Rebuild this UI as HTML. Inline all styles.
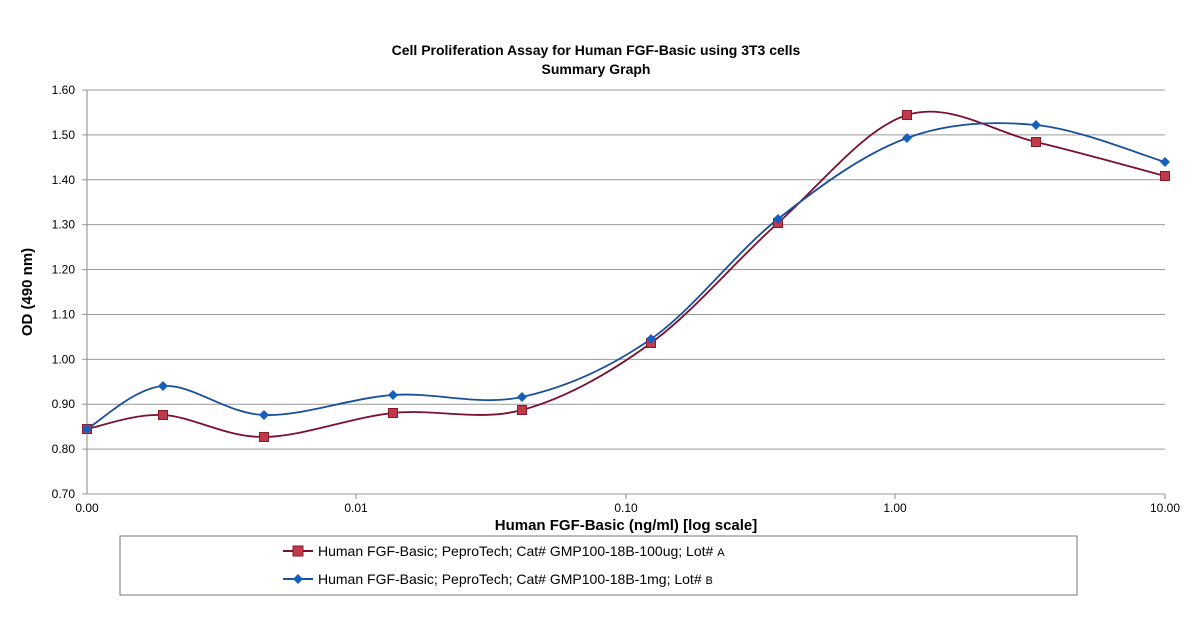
<!DOCTYPE html>
<html><head><style>
body{margin:0;background:#fff;}
svg text{font-family:"Liberation Sans",Arial,sans-serif;}
</style></head><body>
<svg id="s" width="1200" height="637" viewBox="0 0 1200 637" xmlns="http://www.w3.org/2000/svg">
<rect width="1200" height="637" fill="#fff"/>
<text x="596" y="55" text-anchor="middle" font-size="14" font-weight="bold">Cell Proliferation Assay for Human FGF-Basic using 3T3 cells</text>
<text x="596" y="74" text-anchor="middle" font-size="14" font-weight="bold">Summary Graph</text>
<g id="grid" stroke="#999" stroke-width="1"></g>
<g id="yl" font-size="12" text-anchor="end"></g>
<line x1="87" y1="90" x2="87" y2="494" stroke="#888"/>
<g font-size="12" text-anchor="middle">
<text x="87" y="512">0.00</text><text x="356" y="512">0.01</text><text x="626" y="512">0.10</text><text x="895" y="512">1.00</text><text x="1165" y="512">10.00</text>
</g>
<g stroke="#888"><line x1="356" y1="494" x2="356" y2="499"/><line x1="626" y1="494" x2="626" y2="499"/><line x1="895" y1="494" x2="895" y2="499"/><line x1="1165" y1="494" x2="1165" y2="499"/></g>
<text x="626" y="530" text-anchor="middle" font-size="15" font-weight="bold">Human FGF-Basic (ng/ml) [log scale]</text>
<text transform="translate(32,292) rotate(-90)" text-anchor="middle" font-size="15" font-weight="bold">OD (490 nm)</text>
<path id="pr" fill="none" stroke="#7a1030" stroke-width="1.8"/>
<path id="pb" fill="none" stroke="#1a4f9c" stroke-width="1.8"/>
<g id="mk"></g>
<rect x="120" y="536" width="957" height="59" fill="none" stroke="#777"/>
<line x1="283" y1="551" x2="313" y2="551" stroke="#7a1030" stroke-width="2"/>
<rect x="293" y="546" width="10" height="10" fill="#c0394a" stroke="#8a1a2a"/>
<line x1="283" y1="579" x2="313" y2="579" stroke="#1a4f9c" stroke-width="2"/>
<path d="M298 574 L303 579 L298 584 L293 579Z" fill="#1560bd"/>
<text x="318" y="556" font-size="14">Human FGF-Basic; PeproTech; Cat# GMP100-18B-100ug; Lot# <tspan font-size="11">A</tspan></text>
<text x="318" y="584" font-size="14">Human FGF-Basic; PeproTech; Cat# GMP100-18B-1mg; Lot# <tspan font-size="11">B</tspan></text>
</svg>
<script>
var NS="http://www.w3.org/2000/svg";
function el(t,a,p){var e=document.createElementNS(NS,t);for(var k in a)e.setAttribute(k,a[k]);document.getElementById(p).appendChild(e);return e;}
for(var i=0;i<=9;i++){var y=90+i*404/9;el('line',{x1:87,x2:1165,y1:y,y2:y},'grid');el('line',{x1:82,x2:87,y1:y,y2:y},'grid');
var t=el('text',{x:75,y:y+4},'yl');t.textContent=(1.6-i*0.1).toFixed(2);}
var xs=[87,163,264,393,522,651,778,907,1036,1165];
var r=[429,415,437,413,410,343,223,115,142,176];
var b=[429,386,415,395,397,339,219,138,125,162];
function path(ys){var p=xs.map(function(x,i){return [x,ys[i]]});var d='M'+p[0];
for(var i=0;i<p.length-1;i++){var p0=p[i-1]||p[i],p1=p[i],p2=p[i+1],p3=p[i+2]||p2;
var c1=[p1[0]+(p2[0]-p0[0])/6,p1[1]+(p2[1]-p0[1])/6],c2=[p2[0]-(p3[0]-p1[0])/6,p2[1]-(p3[1]-p1[1])/6];
d+=' C'+c1+' '+c2+' '+p2;}return d;}
document.getElementById('pr').setAttribute('d',path(r));
document.getElementById('pb').setAttribute('d',path(b));
xs.forEach(function(x,i){el('rect',{x:x-4.5,y:r[i]-4.5,width:9,height:9,fill:'#c0394a',stroke:'#8a1a2a'},'mk');});
xs.forEach(function(x,i){var y=b[i];el('path',{d:'M'+x+' '+(y-5)+' L'+(x+5)+' '+y+' L'+x+' '+(y+5)+' L'+(x-5)+' '+y+'Z',fill:'#1560bd'},'mk');});
</script>
</body></html>
